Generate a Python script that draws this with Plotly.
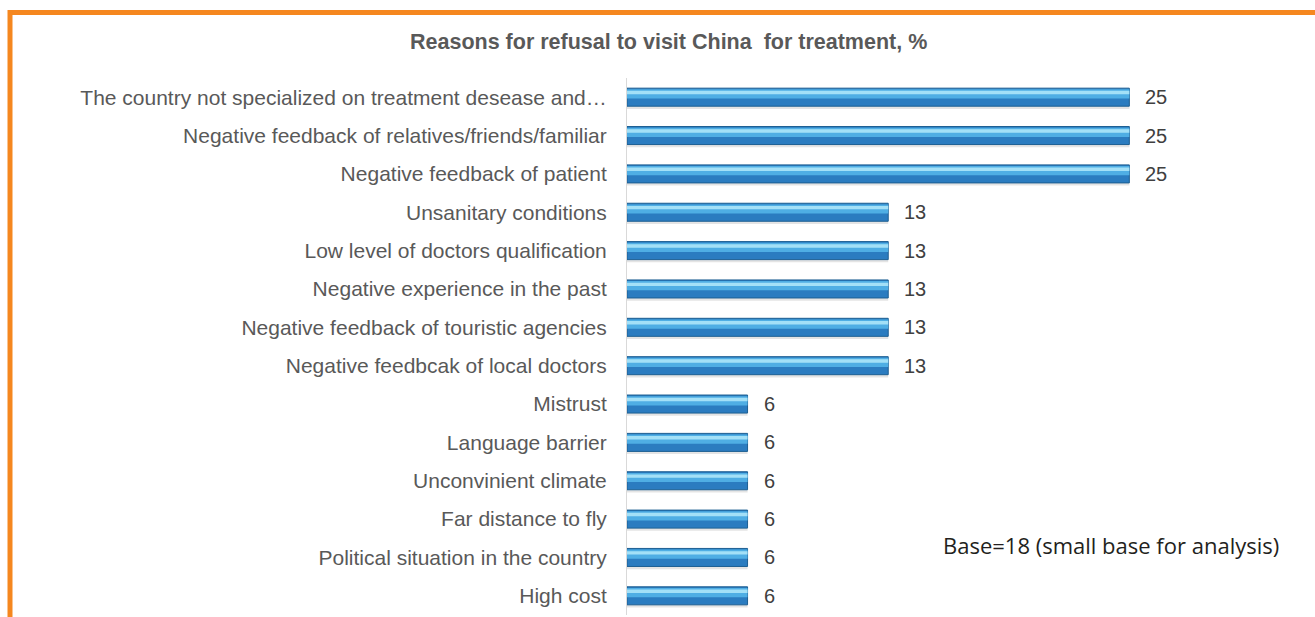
import plotly.graph_objects as go

# Survey results: reasons for refusing treatment in China, % of respondents
reasons = [
    "The country not specialized on treatment desease and\u2026",
    "Negative feedback of relatives/friends/familiar",
    "Negative feedback of patient",
    "Unsanitary conditions",
    "Low level of doctors qualification",
    "Negative experience in the past",
    "Negative feedback of touristic agencies",
    "Negative feedbcak of local doctors",
    "Mistrust",
    "Language barrier",
    "Unconvinient climate",
    "Far distance to fly",
    "Political situation in the country",
    "High cost",
]
shares = [25, 25, 25, 13, 13, 13, 13, 13, 6, 6, 6, 6, 6, 6]

title_text = "Reasons for refusal to visit China  for treatment, %"
base_note = "Base=18 (small base for analysis)"

# Page geometry (pixels)
W, H = 1315, 617
plot_left, plot_right = 627, 1270
plot_top, plot_bottom = 78, 615

bar_w = 0.47
label_font = "Liberation Sans, Arial, sans-serif"

fig = go.Figure()

# soft drop shadow under each bar
fig.add_trace(go.Bar(
    x=shares, y=reasons, orientation="h",
    width=bar_w, offset=-bar_w / 2 + 0.07,
    marker=dict(color="rgba(90,90,90,0.16)", line=dict(width=0)),
    hoverinfo="skip", showlegend=False,
))
# main bar body
fig.add_trace(go.Bar(
    x=shares, y=reasons, orientation="h",
    width=bar_w, offset=-bar_w / 2,
    marker=dict(color="#2b7cc0", line=dict(color="#1d5f92", width=1)),
    showlegend=False,
))
# lighter upper half for a rounded look
fig.add_trace(go.Bar(
    x=shares, y=reasons, orientation="h",
    width=0.24, offset=-bar_w / 2 + 0.03,
    marker=dict(color="#4faee4", line=dict(width=0)),
    hoverinfo="skip", showlegend=False,
))
# bright highlight stripe
fig.add_trace(go.Bar(
    x=shares, y=reasons, orientation="h",
    width=0.09, offset=-bar_w / 2 + 0.07,
    marker=dict(color="#a3e0f7", line=dict(width=0)),
    hoverinfo="skip", showlegend=False,
))

# value labels to the right of the bars
for r, v in zip(reasons, shares):
    fig.add_annotation(
        x=v, y=r, text=str(v), showarrow=False,
        xanchor="left", yanchor="middle", xshift=14,
        font=dict(family=label_font, size=20, color="#404040"),
    )

def px_x(px):
    return (px - plot_left) / (plot_right - plot_left)

def px_y(py):
    return (plot_bottom - py) / (plot_bottom - plot_top)

# title
fig.add_annotation(
    x=px_x(668), y=px_y(42), xref="paper", yref="paper",
    text="<b>" + title_text + "</b>", showarrow=False,
    xanchor="center", yanchor="middle",
    font=dict(family=label_font, size=21.5, color="#595959"),
)
# sample size note
fig.add_annotation(
    x=px_x(941), y=px_y(545), xref="paper", yref="paper",
    text=base_note, showarrow=False,
    xanchor="left", yanchor="middle",
    font=dict(family="Open Sans, sans-serif", size=22, color="#231f20"),
)

# orange frame along the top and left edge
orange = "#f5871f"
fig.add_shape(type="line", xref="paper", yref="paper",
              x0=px_x(8), x1=px_x(W + 5), y0=px_y(12.5), y1=px_y(12.5),
              line=dict(color=orange, width=5))
fig.add_shape(type="line", xref="paper", yref="paper",
              x0=px_x(10), x1=px_x(10), y0=px_y(10), y1=px_y(H + 5),
              line=dict(color=orange, width=5))

fig.update_layout(
    width=W, height=H,
    margin=dict(l=plot_left, r=W - plot_right, t=plot_top, b=H - plot_bottom),
    barmode="overlay",
    plot_bgcolor="white", paper_bgcolor="white",
    xaxis=dict(range=[0, 32], visible=False, showgrid=False, zeroline=False),
    yaxis=dict(
        autorange="reversed", showgrid=False, zeroline=False,
        showline=True, linecolor="#d9d9d9", linewidth=1,
        ticks="", ticklabelstandoff=15,
        tickfont=dict(family=label_font, size=21, color="#595959"),
    ),
)

fig.write_html("out.html")
